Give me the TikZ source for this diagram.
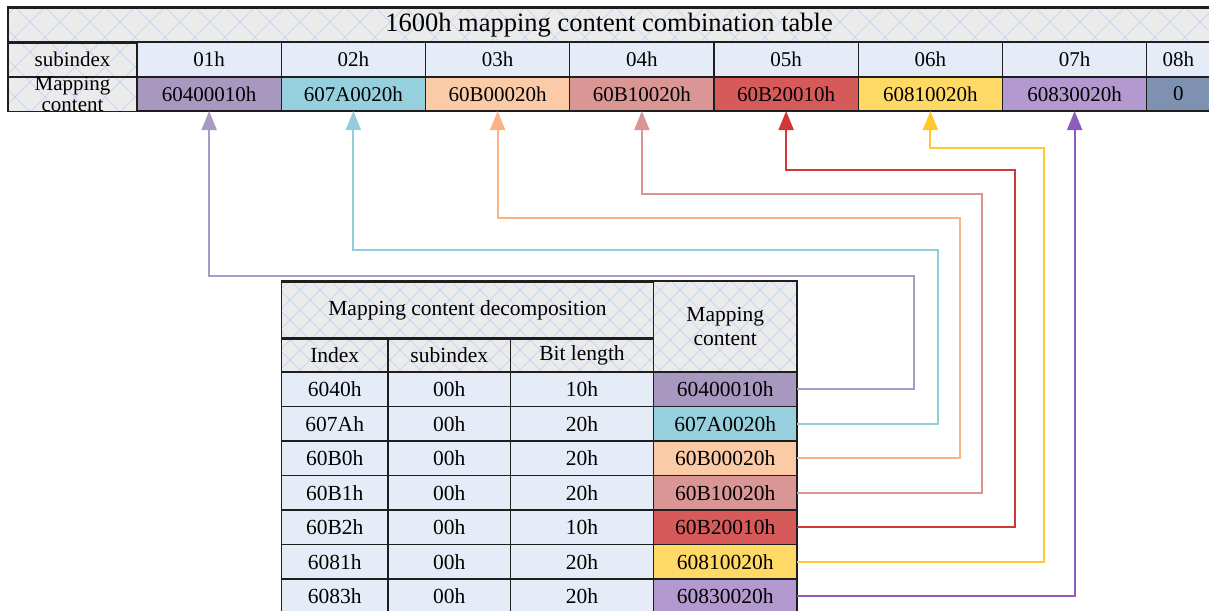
\documentclass[tikz,border=0pt]{standalone}
\usepackage{fontspec}
\setmainfont{Liberation Serif}
\usetikzlibrary{arrows.meta}

% palette
\definecolor{hdrgrey}{HTML}{EBEBEB}
\definecolor{hatchblue}{HTML}{C9D8F0}
\definecolor{bodyblue}{HTML}{E6ECF7}
\definecolor{gridline}{HTML}{1E1E1E}
\definecolor{c1fill}{HTML}{A898BF}\definecolor{c1line}{HTML}{A99AC4}
\definecolor{c2fill}{HTML}{96D0DE}\definecolor{c2line}{HTML}{92CDDC}
\definecolor{c3fill}{HTML}{FACBA6}\definecolor{c3line}{HTML}{F8B583}
\definecolor{c4fill}{HTML}{D99694}\definecolor{c4line}{HTML}{DA9491}
\definecolor{c5fill}{HTML}{D65A5A}\definecolor{c5line}{HTML}{D03838}
\definecolor{c6fill}{HTML}{FFD966}\definecolor{c6line}{HTML}{FFC92E}
\definecolor{c7fill}{HTML}{B399CF}\definecolor{c7line}{HTML}{8E5DBB}
\definecolor{c8fill}{HTML}{7F91B0}

\newcommand\tblTitleFont{\fontsize{26.5}{28}\selectfont}
\newcommand\tblTopFont{\fontsize{21}{21}\selectfont}
\newcommand\tblLowFont{\fontsize{21.5}{24}\selectfont}

\tikzset{
  cellbase/.style={draw=gridline, line width=1.1pt, inner sep=0pt, outer sep=0pt, anchor=center},
  hdr/.style={cellbase},
  body/.style={cellbase, fill=bodyblue},
  hatchline/.style={hatchblue, line width=1pt},
  link/.style={line width=2pt, -{Triangle[width=15pt,length=19pt]}},
}

\begin{document}
\begin{tikzpicture}[x=1pt, y=-1pt]
\useasboundingbox (0,0) rectangle (1209,610);
\clip (0,0) rectangle (1209,610);

% grey cross-hatched background of the heading cells, top table
\begin{scope}
  \clip (8,7) rectangle (1210,42) (8,42) rectangle (137,111);
  \fill[hdrgrey] (0,0) rectangle (1209,120);
  \foreach \k in {-150,-120,...,1380}{
    \draw[hatchline] (\k,-8) -- ++(140,140);
    \draw[hatchline] (\k,-8) -- ++(-140,140);
  }
\end{scope}
% same background, bottom table (finer grid)
\begin{scope}
  \clip (281.5,281) rectangle (797,372);
  \fill[hdrgrey] (270,270) rectangle (810,380);
  \foreach \k in {160,180,...,940}{
    \draw[hatchline] (\k,270) -- ++(120,120);
    \draw[hatchline] (\k,270) -- ++(-120,120);
  }
\end{scope}

% ---------------- combination table (top) ----------------
\node[hdr, minimum width=1202pt, minimum height=35pt, font=\tblTitleFont]
  (title) at (609,25.5) {1600h mapping content combination table};
\node[hdr, minimum width=129pt, minimum height=35pt, font=\tblTopFont]
  (sublbl) at (72.5,59.5) {subindex};
\node[hdr, minimum width=129pt, minimum height=34pt, font=\tblTopFont, align=center]
  (maplbl) at (72.5,94) {Mapping\\content};

\foreach \k/\lab/\val/\col in {1/01h/60400010h/c1fill, 2/02h/607A0020h/c2fill,
    3/03h/60B00020h/c3fill, 4/04h/60B10020h/c4fill, 5/05h/60B20010h/c5fill,
    6/06h/60810020h/c6fill, 7/07h/60830020h/c7fill}{
  \node[body, minimum width=144.25pt, minimum height=35pt, font=\tblTopFont]
    (s\k) at ({137+144.25*(\k-0.5)},59.5) {\lab};
  \node[cellbase, fill=\col, minimum width=144.25pt, minimum height=34pt, font=\tblTopFont]
    (t\k) at ({137+144.25*(\k-0.5)},94) {\val};
}
\node[body, minimum width=63.25pt, minimum height=35pt, font=\tblTopFont]
  (s8) at (1178.4,59.5) {08h};
\node[cellbase, fill=c8fill, minimum width=63.25pt, minimum height=34pt, font=\tblTopFont]
  (t8) at (1178.4,94) {0};
% frame of the title row
\draw[gridline, line width=1.1pt] (8,7) rectangle (1210,42);

% ---------------- decomposition table (bottom) ----------------
\node[hdr, minimum width=372pt, minimum height=57pt, font=\tblLowFont]
  (dhead) at (467.5,310.5) {Mapping content decomposition};
\node[hdr, minimum width=143.5pt, minimum height=91pt, font=\tblLowFont, align=center]
  (mhead) at (725.25,326.5) {Mapping\\content};
\node[hdr, minimum width=106.5pt, minimum height=34pt, font=\tblLowFont]
  (hi) at (334.75,355) {Index};
\node[hdr, minimum width=122.5pt, minimum height=34pt, font=\tblLowFont]
  (hs) at (449.25,355) {subindex};
\node[hdr, minimum width=143pt, minimum height=34pt, font=\tblLowFont]
  (hb) at (582,355) {Bit length};
\draw[gridline, line width=1.1pt] (281.5,281) rectangle (653.5,338);

\foreach \k/\idx/\len/\val/\col in {1/6040h/10h/60400010h/c1fill, 2/607Ah/20h/607A0020h/c2fill,
    3/60B0h/20h/60B00020h/c3fill, 4/60B1h/20h/60B10020h/c4fill, 5/60B2h/10h/60B20010h/c5fill,
    6/6081h/20h/60810020h/c6fill, 7/6083h/20h/60830020h/c7fill}{
  \node[body, minimum width=106.5pt, minimum height=34.5pt, font=\tblLowFont]
    (i\k) at (334.75,{389.25+34.5*(\k-1)}) {\idx};
  \node[body, minimum width=122.5pt, minimum height=34.5pt, font=\tblLowFont]
    (u\k) at (449.25,{389.25+34.5*(\k-1)}) {00h};
  \node[body, minimum width=143pt, minimum height=34.5pt, font=\tblLowFont]
    (l\k) at (582,{389.25+34.5*(\k-1)}) {\len};
  \node[cellbase, fill=\col, minimum width=143.5pt, minimum height=34.5pt, font=\tblLowFont]
    (b\k) at (725.25,{389.25+34.5*(\k-1)}) {\val};
}

% ---------------- routing from each entry up to its subindex slot ----------------
\coordinate (k1) at (914,275.7);
\coordinate (k2) at (938,250);
\coordinate (k3) at (960,217.7);
\coordinate (k4) at (982,193.7);
\coordinate (k5) at (1015,170);
\coordinate (k6) at (1044,147.7);

\draw[link, c1line] (b1.east) -| (k1) -| (t1.south);
\draw[link, c2line] (b2.east) -| (k2) -| (t2.south);
\draw[link, c3line] (b3.east) -| (k3) -| (t3.south);
\draw[link, c4line] (b4.east) -| (k4) -| (t4.south);
\draw[link, c5line] (b5.east) -| (k5) -| (t5.south);
\draw[link, c6line] (b6.east) -| (k6) -| (t6.south);
\draw[link, c7line] (b7.east) -| (t7.south);
\end{tikzpicture}
\end{document}
